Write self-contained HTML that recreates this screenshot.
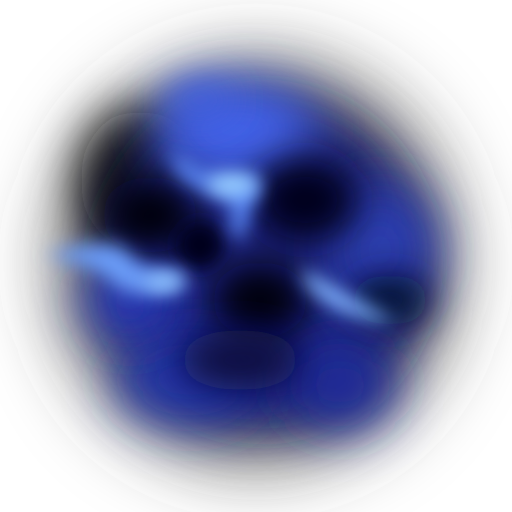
<!DOCTYPE html>
<html><head><meta charset="utf-8"><style>
html,body{margin:0;padding:0;background:#fff;width:512px;height:512px;overflow:hidden}
svg{display:block}
</style></head><body>
<svg width="512" height="512" viewBox="0 0 512 512" xmlns="http://www.w3.org/2000/svg">
<defs>
<filter id="b40" filterUnits="userSpaceOnUse" x="-100" y="-100" width="712" height="712"><feGaussianBlur stdDeviation="40"/></filter>
<filter id="b25" filterUnits="userSpaceOnUse" x="-100" y="-100" width="712" height="712"><feGaussianBlur stdDeviation="25"/></filter>
<filter id="b14" filterUnits="userSpaceOnUse" x="-100" y="-100" width="712" height="712"><feGaussianBlur stdDeviation="18"/></filter>
<filter id="b8" filterUnits="userSpaceOnUse" x="-100" y="-100" width="712" height="712"><feGaussianBlur stdDeviation="9"/></filter>
</defs>
<rect width="512" height="512" fill="#fff"/>
<g>
<ellipse cx="256" cy="262" rx="192" ry="195" fill="#404040" filter="url(#b40)"/>
<ellipse cx="140" cy="180" rx="60" ry="70" fill="#111" filter="url(#b25)"/>
</g>
<g>
<ellipse cx="265" cy="262" rx="155" ry="160" fill="#1c2480" filter="url(#b25)"/>
<ellipse cx="235" cy="130" rx="80" ry="50" fill="#4262e8" filter="url(#b25)"/>
<ellipse cx="380" cy="250" rx="55" ry="65" fill="#2a3cb0" filter="url(#b25)"/>
<ellipse cx="190" cy="380" rx="75" ry="45" fill="#2434a8" filter="url(#b25)"/>
<ellipse cx="340" cy="385" rx="55" ry="45" fill="#1e2c98" filter="url(#b25)"/>
<ellipse cx="130" cy="300" rx="45" ry="40" fill="#2838b8" filter="url(#b25)"/>
</g>
<g>
<ellipse cx="150" cy="215" rx="48" ry="38" fill="#020210" filter="url(#b14)"/>
<ellipse cx="305" cy="200" rx="52" ry="42" fill="#04061c" filter="url(#b14)"/>
<ellipse cx="260" cy="300" rx="48" ry="38" fill="#020210" filter="url(#b14)"/>
<ellipse cx="200" cy="245" rx="25" ry="25" fill="#05051a" filter="url(#b8)"/>
<ellipse cx="390" cy="300" rx="40" ry="25" fill="#060a2a" filter="url(#b14)"/>
<ellipse cx="240" cy="360" rx="60" ry="30" fill="#0a1040" filter="url(#b14)"/>
</g>
<g>
<path d="M170,150 C200,170 215,180 240,175 C260,172 265,185 255,200 C245,215 250,230 240,240 L230,230 C235,210 230,195 210,190 C190,188 175,175 170,150Z" fill="#5a88f5" filter="url(#b8)"/>
<ellipse cx="232" cy="185" rx="25" ry="11" fill="#9ad0ff" filter="url(#b8)"/>
<path d="M45,255 C80,245 110,240 125,250 C135,262 150,275 185,275 C175,295 130,300 115,285 C100,270 75,262 45,255Z" fill="#6a9cf8" filter="url(#b8)"/>
<ellipse cx="165" cy="282" rx="20" ry="10" fill="#90c4ff" filter="url(#b8)"/>
<path d="M300,270 C330,280 350,300 395,320 C380,325 345,315 330,305 C315,295 305,285 300,270Z" fill="#80b4ff" filter="url(#b8)"/>
<ellipse cx="200" cy="100" rx="35" ry="18" fill="#3f5ee0" filter="url(#b14)"/>
</g>
</svg>
</body></html>
